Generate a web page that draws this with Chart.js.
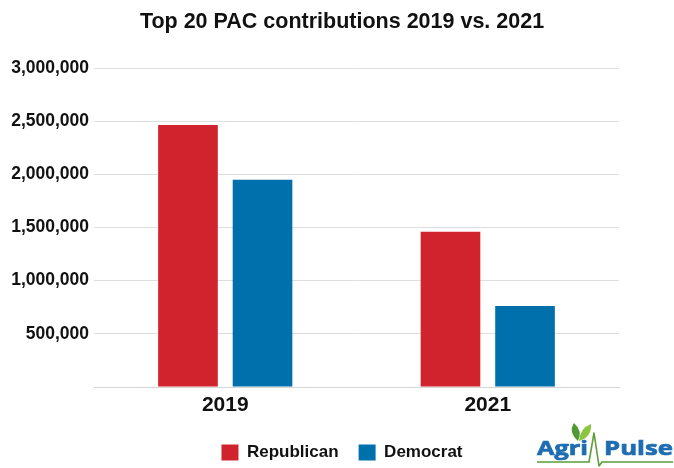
<!DOCTYPE html>
<html>
<head>
<meta charset="utf-8">
<script src="https://cdn.jsdelivr.net/npm/chart.js@4.4.0/dist/chart.umd.min.js"></script>
<style>
  html, body { margin: 0; padding: 0; background: #fff; }
  #wrap { width: 674px; height: 468px; }
</style>
</head>
<body>
<div id="wrap"><canvas id="pacChart" width="674" height="468"></canvas></div>
<script>
const chartTitle = "Top 20 PAC contributions 2019 vs. 2021";
const years = ["2019", "2021"];
const republican = [2465000, 1460000];
const democrat = [1950000, 762000];
const yMin = 0;
const yMax = 3000000;
const yStep = 500000;

const FONT = "'Liberation Sans', Arial, sans-serif";
const TEXT = "#111111";
const RED = "#d1232d";
const BLUE = "#0070ad";

// Agri-Pulse mark in the bottom right corner
const logoPlugin = {
    id: "agriPulseLogo",
    afterDraw(chart) {
        const ctx = chart.ctx;
        ctx.save();

        // pulse line under the words
        ctx.strokeStyle = "#5b9f3b";
        ctx.lineWidth = 1.6;
        ctx.lineJoin = "round";
        ctx.beginPath();
        ctx.moveTo(537, 462);
        ctx.lineTo(589, 462);
        ctx.lineTo(594, 433);
        ctx.lineTo(599, 466);
        ctx.lineTo(602, 462);
        ctx.lineTo(673, 462);
        ctx.stroke();

        // two leaves above the "i"
        ctx.fillStyle = "#4f9a35";
        ctx.beginPath();
        ctx.moveTo(578, 441);
        ctx.quadraticCurveTo(568, 432, 574, 423);
        ctx.quadraticCurveTo(583, 431, 578, 441);
        ctx.fill();
        ctx.fillStyle = "#8cc63f";
        ctx.beginPath();
        ctx.moveTo(579, 441);
        ctx.quadraticCurveTo(580, 428, 591, 424);
        ctx.quadraticCurveTo(592, 437, 579, 441);
        ctx.fill();

        // words
        ctx.fillStyle = "#1e6db2";
        ctx.strokeStyle = "#1e6db2";
        ctx.lineWidth = 0.7;
        ctx.font = "bold 20px 'Open Sans', " + FONT;
        ctx.textBaseline = "alphabetic";
        drawFitted(ctx, "Agri", 537, 455, 51);
        drawFitted(ctx, "Pulse", 604, 455, 69);
        ctx.restore();
    }
};

function drawFitted(ctx, text, x, y, width) {
    const w = ctx.measureText(text).width;
    ctx.save();
    ctx.translate(x, y);
    ctx.scale(width / w, 1);
    ctx.fillText(text, 0, 0);
    ctx.strokeText(text, 0, 0);
    ctx.restore();
}

const ctx = document.getElementById("pacChart");
new Chart(ctx, {
    type: "bar",
    data: {
        labels: years,
        datasets: [{
            label: "Republican",
            data: republican,
            backgroundColor: RED,
            borderWidth: 0,
            yAxisID: "y"
        }, {
            label: "Democrat",
            data: democrat,
            backgroundColor: BLUE,
            borderWidth: 0,
            yAxisID: "y"
        }]
    },
    options: {
        responsive: false,
        animation: false,
        categoryPercentage: 0.568,
        barPercentage: 0.8,
        layout: { padding: { left: 10, right: 0, top: 0, bottom: -3 } },
        plugins: {
            title: {
                display: true,
                text: chartTitle,
                color: TEXT,
                font: { family: FONT, size: 21.5, weight: "bold" },
                padding: { top: 9, bottom: 33.2 }
            },
            legend: {
                position: "bottom",
                labels: {
                    boxWidth: 17,
                    boxHeight: 16,
                    padding: 20,
                    color: TEXT,
                    font: { family: FONT, size: 17, weight: "bold" }
                }
            },
            tooltip: { enabled: false }
        },
        scales: {
            x: {
                grid: { display: false, drawTicks: false },
                border: { display: true, color: "#d4d4d4" },
                ticks: {
                    padding: 6,
                    color: TEXT,
                    font: { family: FONT, size: 21, weight: "bold" }
                },
                afterFit: scale => { scale.height = 37; }
            },
            y: {
                min: yMin,
                max: yMax,
                grid: { color: "#dedede", drawTicks: false },
                border: { display: false },
                ticks: {
                    stepSize: yStep,
                    padding: 5,
                    color: TEXT,
                    font: { family: FONT, size: 17.5, weight: "bold" },
                    callback: v => v === 0 ? "" : v.toLocaleString("en-US")
                },
                afterFit: scale => { scale.width = 84; }
            },
            y2: {
                position: "right",
                grid: { display: false },
                border: { display: false },
                ticks: { display: false },
                afterFit: scale => { scale.width = 55; }
            }
        }
    },
    plugins: [logoPlugin]
});
</script>
</body>
</html>
